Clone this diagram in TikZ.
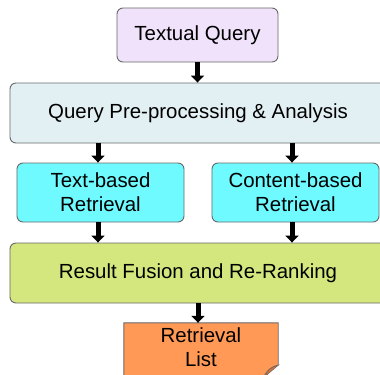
\documentclass[tikz,border=0pt]{standalone}
\usepackage{fontspec}
\setmainfont{Liberation Sans}
\usetikzlibrary{arrows.meta}
\definecolor{qfill}{RGB}{240,226,250}
\definecolor{pfill}{RGB}{226,240,244}
\definecolor{rfill}{RGB}{110,250,255}
\definecolor{ffill}{RGB}{212,230,126}
\definecolor{lfill}{RGB}{255,153,85}
\definecolor{lfold}{RGB}{225,110,45}
\definecolor{edge}{RGB}{105,105,105}
\begin{document}
\begin{tikzpicture}[x=1bp,y=-1bp,
  txt/.style={font=\fontsize{20.5}{24}\selectfont,align=center},
  box/.style={txt,draw=edge,line width=0.9bp,rounded corners=6bp,inner sep=0pt},
  flow/.style={line width=5bp,-{Triangle[width=13bp,length=7bp]}}]
\useasboundingbox (0,0) rectangle (380,375);
\fill[white] (0,0) rectangle (380,375);

\node[box,fill=qfill,minimum width=161bp,minimum height=54bp] (tq) at (197.5,35) {Textual Query};
\node[box,fill=pfill,minimum width=380bp,minimum height=60bp] (qp) at (200,113) {};
\node[txt] at (198,113) {Query Pre-processing \& Analysis};
\node[box,fill=rfill,minimum width=167bp,minimum height=59bp] (tb) at (100.5,192.5) {Text-based\\Retrieval};
\node[box,fill=rfill,minimum width=167bp,minimum height=59bp] (cb) at (295.5,192.5) {Content-based\\Retrieval};
\node[box,fill=ffill,minimum width=380bp,minimum height=60bp] (rf) at (200,273) {};
\node[txt] at (198,273) {Result Fusion and Re-Ranking};

% document shape with a curled lower right corner
\node[inner sep=0pt,minimum width=154bp,minimum height=48bp] (rl) at (201,347) {};
\fill[lfill,draw=edge,line width=0.9bp]
  (rl.north west) -- (rl.north east) -- ([yshift=6bp]rl.south east)
  .. controls ([xshift=-5bp,yshift=5bp]rl.south east) and ([xshift=-11bp,yshift=2bp]rl.south east) .. ([xshift=-15bp,yshift=-7bp]rl.south east)
  -- ([yshift=-7bp]rl.south west) -- cycle;
\fill[lfold,draw=edge,line width=0.6bp]
  ([yshift=6bp]rl.south east)
  .. controls ([xshift=-6bp,yshift=1bp]rl.south east) .. ([xshift=-15bp,yshift=-7bp]rl.south east)
  .. controls ([xshift=-9bp,yshift=3bp]rl.south east) .. cycle;
\node[txt] at (rl.center) {Retrieval\\List};

\draw[flow] (tq.south) -- (tq.south |- qp.north);
\draw[flow] ([xshift=-2.5bp]tb.north |- qp.south) -- ([xshift=-2.5bp]tb.north);
\draw[flow] ([xshift=-3.5bp]cb.north |- qp.south) -- ([xshift=-3.5bp]cb.north);
\draw[flow] ([xshift=-2.5bp]tb.south) -- ([xshift=-2.5bp]tb.south |- rf.north);
\draw[flow] ([xshift=-3.5bp]cb.south) -- ([xshift=-3.5bp]cb.south |- rf.north);
\draw[flow] ([xshift=-3bp]rl.north |- rf.south) -- ([xshift=-3bp]rl.north);
\end{tikzpicture}
\end{document}
